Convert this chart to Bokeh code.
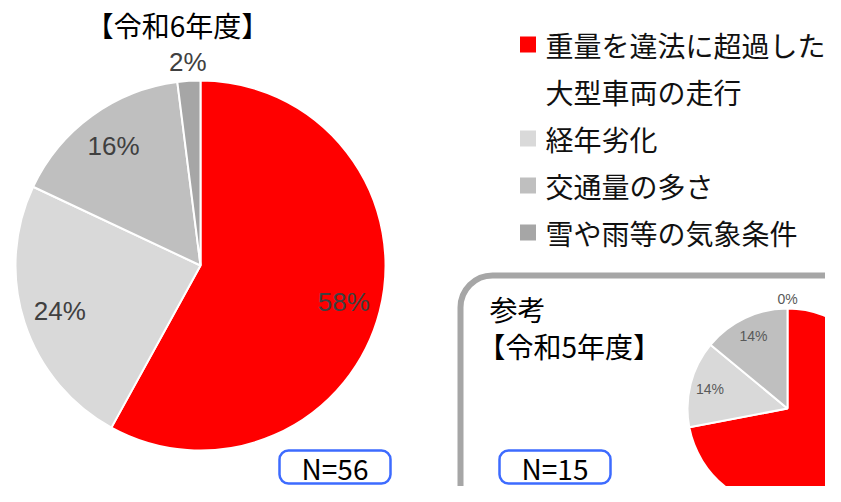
import math
from bokeh.plotting import figure
from bokeh.models import Range1d, BoxAnnotation
from bokeh.core.properties import value
from bokeh.embed import file_html
from bokeh.resources import INLINE

# ---------------- data ----------------
categories = ["重量を違法に超過した\n大型車両の走行", "経年劣化", "交通量の多さ", "雪や雨等の気象条件"]
colors = ["#ff0000", "#d9d9d9", "#bfbfbf", "#a6a6a6"]
r6_values = [58, 24, 16, 2]
r5_values = [72, 14, 14, 0]
r6_title = "【令和6年度】"
r5_title = ["参考", "【令和5年度】"]
r6_n = "N=56"
r5_n = "N=15"

# ---------------- figure ----------------
W, H = 825, 486
p = figure(width=W, height=H, output_backend="svg", toolbar_location=None,
           x_range=Range1d(0, W), y_range=Range1d(502 - H, 502),
           min_border=0, min_border_left=0, min_border_right=0,
           min_border_top=0, min_border_bottom=0)
p.axis.visible = False
p.grid.visible = False
p.outline_line_color = None
p.background_fill_color = "white"
p.border_fill_color = "white"

JP = value("Noto Sans CJK JP")


def Y(py):
    return 502 - py


def pie(cx, cy, r, vals, label_k, font_size, label_color):
    total = sum(vals)
    cum = 0
    xs, ys, starts, ends, cols = [], [], [], [], []
    lx, ly, lt = [], [], []
    for v, c, k in zip(vals, colors, label_k):
        a0 = cum / total
        a1 = (cum + v) / total
        mid = (a0 + a1) / 2
        if v > 0:
            xs.append(cx); ys.append(cy)
            starts.append(math.pi / 2 - 2 * math.pi * a0)
            ends.append(math.pi / 2 - 2 * math.pi * a1)
            cols.append(c)
        th = math.pi / 2 - 2 * math.pi * mid
        lx.append(cx + k * r * math.cos(th))
        ly.append(cy + k * r * math.sin(th))
        lt.append(f"{v}%")
        cum += v
    p.wedge(x=xs, y=ys, radius=r, start_angle=starts, end_angle=ends,
            direction="clock", fill_color=cols, line_color="white", line_width=2)
    p.text(x=lx, y=ly, text=lt, text_align="center", text_baseline="middle",
           text_font=value("Liberation Sans"), text_font_size=font_size,
           text_color=label_color)


# reference box
p.add_layout(BoxAnnotation(left=460, right=1000, top=Y(275), bottom=-100,
                           fill_alpha=0, line_color="#a6a6a6", line_alpha=1,
                           line_width=6, border_radius=32, level="underlay"))

# main pie (令和6年度)
pie(200, Y(265), 185, r6_values, [0.8, 0.8, 0.8, 1.1], "26px", "#404040")
# reference pie (令和5年度)
pie(787, Y(408), 100, r5_values, [0.8, 0.8, 0.8, 1.1], "14px", "#595959")

# titles
p.text(x=[177], y=[Y(24)], text=[r6_title], text_align="center", text_baseline="middle",
       text_font=JP, text_font_size="28px", text_color="black")
p.text(x=[489, 477], y=[Y(308), Y(345)], text=r5_title, text_align="left",
       text_baseline="middle", text_font=JP, text_font_size="28px", text_color="black")

# legend
row0, row_step = 44, 47
sq_x, sq_y, sq_cols = [], [], []
tx, ty, tt = [], [], []
row = 0
for cat, c in zip(categories, colors):
    sq_x.append(527.5); sq_y.append(Y(row0 + row * row_step)); sq_cols.append(c)
    for ln in cat.split("\n"):
        tt.append(ln); tx.append(545); ty.append(Y(row0 + row * row_step))
        row += 1
p.rect(x=sq_x, y=sq_y, width=16, height=16, fill_color=sq_cols, line_color=None)
p.text(x=tx, y=ty, text=tt, text_align="left", text_baseline="middle",
       text_font=JP, text_font_size="28px", text_color="#111111")

# N boxes
for left, right, label in [(279, 390, r6_n), (499, 610, r5_n)]:
    p.add_layout(BoxAnnotation(left=left, right=right, top=Y(450), bottom=Y(483),
                               fill_color="white", fill_alpha=1,
                               line_color="#3d6bff", line_alpha=1,
                               line_width=2.5, border_radius=9))
    p.text(x=[(left + right) / 2], y=[Y(467)], text=[label], text_align="center",
           text_baseline="middle", text_font=JP, text_font_size="28px",
           text_color="black", level="overlay")

open("out.html", "w").write(file_html(p, INLINE))
